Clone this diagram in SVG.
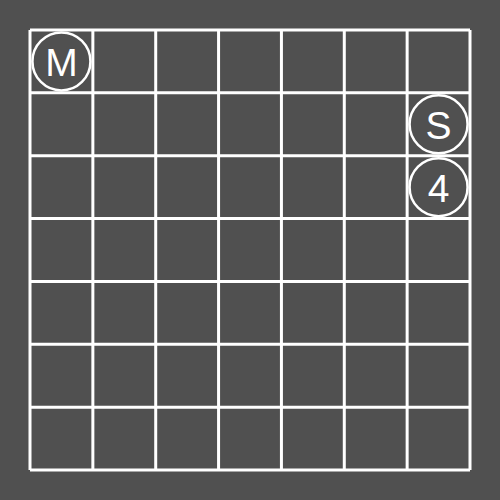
<svg xmlns="http://www.w3.org/2000/svg" width="500" height="500" viewBox="0 0 500 500">
<style>
.g{stroke:#fff;stroke-width:3;fill:none}
.c{fill:#505050;stroke:#fff;stroke-width:2.5}
.t{fill:#fff;font-family:"Liberation Sans",Arial,sans-serif;font-size:39px;text-anchor:middle;dominant-baseline:central}
</style>
<rect width="500" height="500" fill="#505050"/>
<g id="grid" class="g">
<path d="M30 30V470M92.86 30V470M155.71 30V470M218.57 30V470M281.43 30V470M344.29 30V470M407.14 30V470M470 30V470M30 30H470M30 92.86H470M30 155.71H470M30 218.57H470M30 281.43H470M30 344.29H470M30 407.14H470M30 470H470"/>
</g>
<g id="M"><circle class="c" cx="61.43" cy="61.43" r="29"/><text class="t" x="61.43" y="62">M</text></g>
<g id="S"><circle class="c" cx="438.57" cy="124.29" r="29"/><text class="t" x="438.57" y="125">S</text></g>
<g id="n4"><circle class="c" cx="438.57" cy="187.14" r="29"/><text class="t" x="438.57" y="188">4</text></g>
</svg>
